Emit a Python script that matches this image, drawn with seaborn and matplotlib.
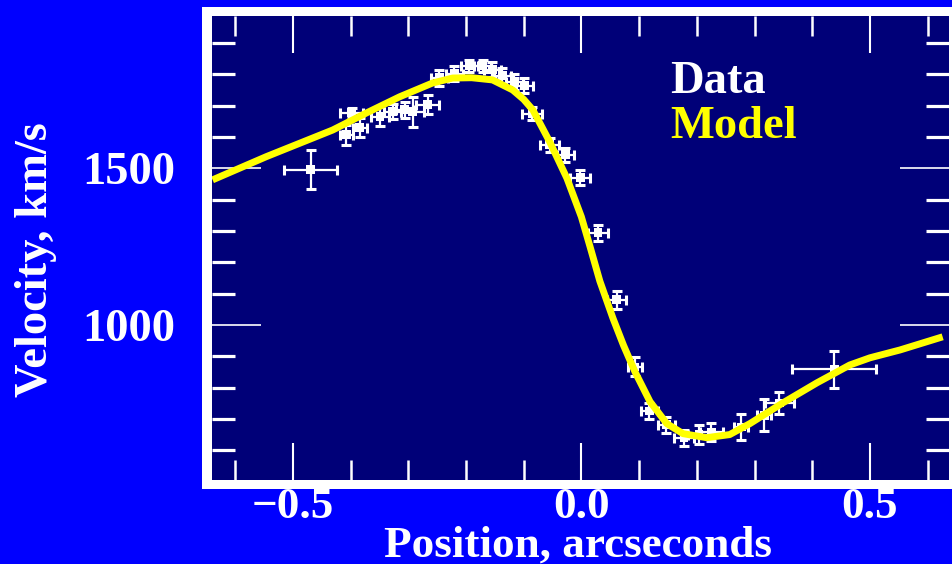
import matplotlib
matplotlib.use("Agg")
import matplotlib.pyplot as plt
from matplotlib.patches import Rectangle
from matplotlib.ticker import MultipleLocator
import pandas as pd
import seaborn as sns

# Rotation curve: model velocity along the slit
model_pos = [-0.639, -0.546, -0.431, -0.373, -0.315, -0.258, -0.223, -0.190, -0.154,
             -0.119, -0.100, -0.084, -0.055, -0.025, 0.000, 0.015, 0.032, 0.055,
             0.073, 0.093, 0.119, 0.148, 0.176, 0.217, 0.257, 0.292, 0.349, 0.408,
             0.465, 0.500, 0.552, 0.626]
model_vel = [1463, 1537, 1622, 1676, 1728, 1772, 1788, 1789, 1782,
             1750, 1720, 1686, 1585, 1468, 1345, 1250, 1140, 1020,
             935, 850, 755, 685, 653, 640, 650, 685, 751, 815,
             872, 895, 920, 962]

# Measured velocities with position and velocity uncertainties
data_pos = [-0.469, -0.407, -0.384, -0.398, -0.349, -0.327, -0.306, -0.292, -0.266,
            -0.246, -0.220, -0.194, -0.171, -0.154, -0.137, -0.116, -0.099, -0.085,
            -0.055, -0.028, -0.002, 0.029, 0.061, 0.093, 0.118, 0.147, 0.178, 0.204,
            0.225, 0.277, 0.317, 0.343, 0.438]
data_vel = [1495, 1607, 1629, 1677, 1665, 1681, 1687, 1680, 1703,
            1789, 1802, 1827, 1827, 1815, 1796, 1776, 1764, 1674,
            1575, 1543, 1470, 1294, 1080, 866, 725, 681, 639, 649,
            658, 674, 712, 751, 859]
pos_err = [0.046, 0.012, 0.012, 0.020, 0.015, 0.015, 0.015, 0.020, 0.020,
           0.015, 0.015, 0.015, 0.015, 0.015, 0.015, 0.015, 0.015, 0.017,
           0.017, 0.015, 0.017, 0.017, 0.017, 0.012, 0.015, 0.015, 0.017, 0.020,
           0.020, 0.012, 0.012, 0.025, 0.073]
vel_err = [62, 32, 30, 15, 30, 25, 25, 48, 30,
           25, 25, 20, 20, 25, 25, 25, 25, 20,
           22, 22, 25, 25, 28, 30, 25, 25, 25, 30,
           30, 42, 52, 35, 59]

x_ticks = [-0.5, 0.0, 0.5]
x_tick_labels = ["\u22120.5", "0.0", "0.5"]
y_ticks = [1000, 1500]
y_tick_labels = ["1000", "1500"]

W, H = 953, 564
BLUE = "#0000ff"
NAVY = "#000078"
YELLOW = "#ffff00"
FS = 33.5

sns.set_theme(style="ticks")
plt.rcParams["font.family"] = ["Liberation Serif", "DejaVu Serif"]
plt.rcParams["font.weight"] = "bold"

fig = plt.figure(figsize=(W / 100, H / 100), dpi=100, facecolor=BLUE)


def box(x0, y0, x1, y1):
    return [x0 / W, 1 - y1 / H, (x1 - x0) / W, (y1 - y0) / H]


# white frame behind the plotting area
fig.patches.append(Rectangle((202 / W, 1 - 489 / H), (960 - 202) / W, (489 - 7) / H,
                             transform=fig.transFigure, facecolor="white",
                             edgecolor="none", zorder=-1))

ax = fig.add_axes(box(212, 16, 949, 480))
ax.set_facecolor(NAVY)
for sp in ax.spines.values():
    sp.set_visible(False)

data = pd.DataFrame({"pos": data_pos, "vel": data_vel})
model = pd.DataFrame({"pos": model_pos, "vel": model_vel})

ax.errorbar(data_pos, data_vel, xerr=pos_err, yerr=vel_err, fmt="none",
            ecolor="white", elinewidth=1.6, capsize=3.5, capthick=2.2, zorder=2)
sns.scatterplot(data=data, x="pos", y="vel", marker="s", s=40, color="white",
                edgecolor="none", legend=False, ax=ax, zorder=3)
sns.lineplot(data=model, x="pos", y="vel", sort=False, color=YELLOW, lw=5,
             solid_joinstyle="round", solid_capstyle="butt",
             legend=False, ax=ax, zorder=4)

ax.set_xlim(-0.640, 0.637)
ax.set_ylim(505, 1986)

ax.set_xticks(x_ticks, x_tick_labels)
ax.set_yticks(y_ticks, y_tick_labels)
ax.xaxis.set_minor_locator(MultipleLocator(0.1))
ax.yaxis.set_minor_locator(MultipleLocator(100))

ax.tick_params(axis="x", which="major", direction="in", length=26.6, width=1.5,
               color="white", top=True, bottom=True, labelsize=32.5,
               labelcolor="white", pad=5)
ax.tick_params(axis="x", which="minor", direction="in", length=14.4, width=1.8,
               color="white", top=True, bottom=True)
ax.tick_params(axis="y", which="major", direction="in", length=35, width=1.2,
               color="white", left=True, right=True, labelsize=FS,
               labelcolor="white", pad=26.6)
ax.tick_params(axis="y", which="minor", direction="in", length=16.5, width=2.3,
               color="white", left=True, right=True)

ax.set_xlabel("Position, arcseconds", fontsize=32.5, color="white", fontweight="bold")
ax.set_ylabel("Velocity, km/s", fontsize=FS, color="white", fontweight="bold")
ax.xaxis.set_label_coords(0.496, -0.099)
ax.yaxis.set_label_coords(-0.2106, 0.476)

fig.text(670 / W, 1 - 93 / H, "Data", color="white", fontsize=FS,
         fontweight="bold", ha="left", va="baseline")
fig.text(670 / W, 1 - 138 / H, "Model", color=YELLOW, fontsize=FS,
         fontweight="bold", ha="left", va="baseline")

fig.savefig("out.png", dpi=100, facecolor=fig.get_facecolor())
